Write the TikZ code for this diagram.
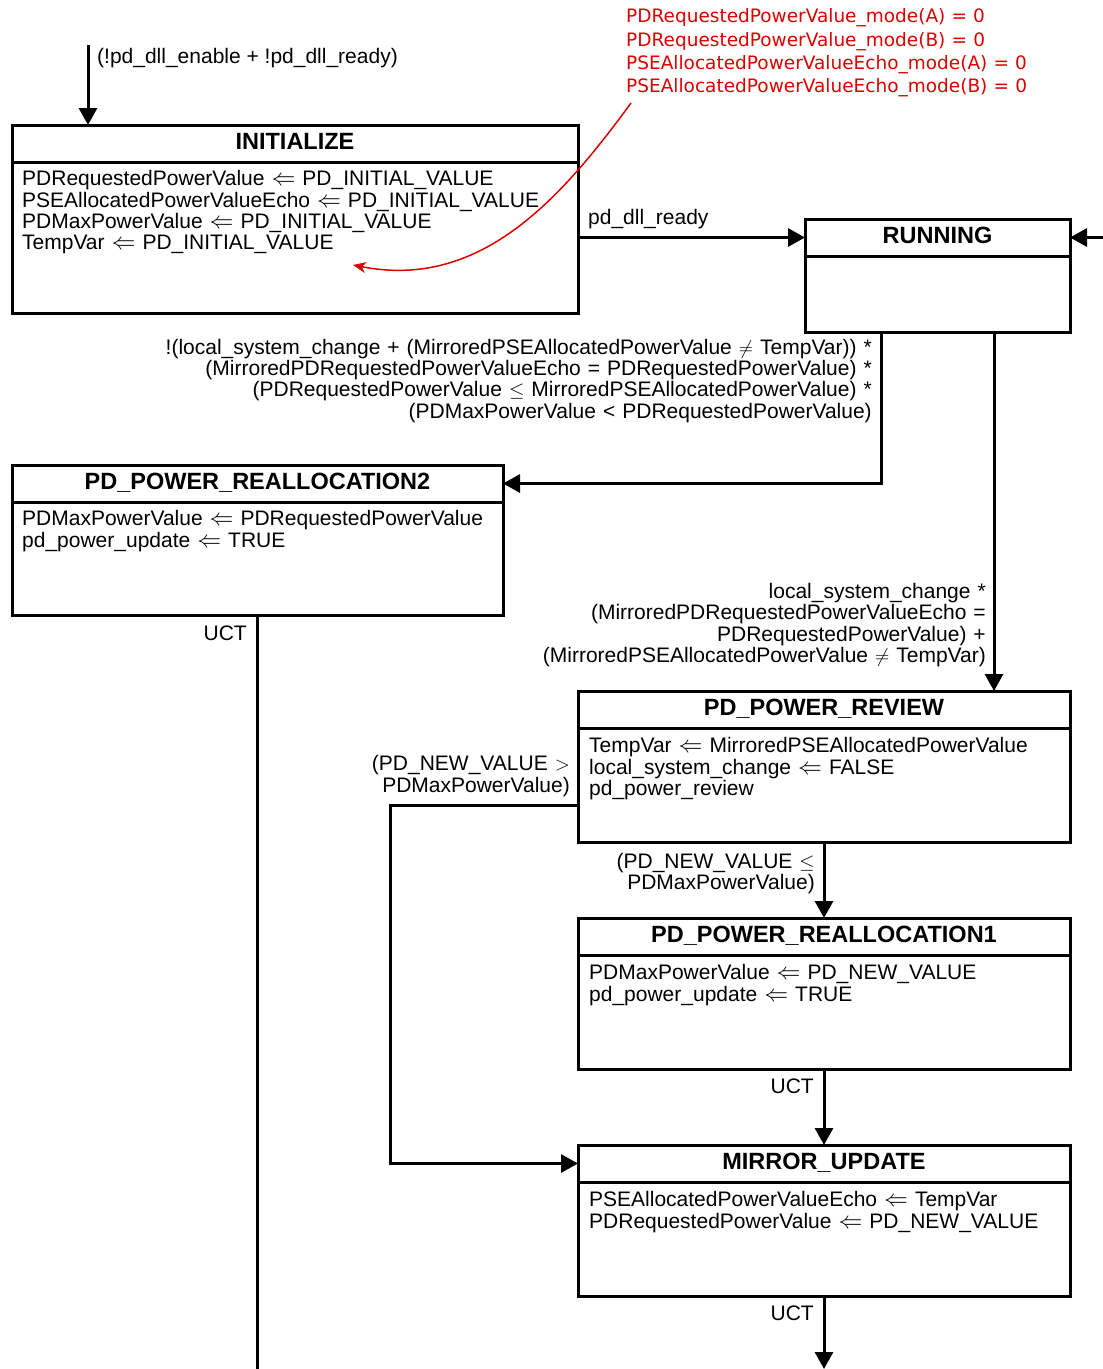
\documentclass[tikz,border=0pt]{standalone}
\usepackage{fontspec}
\usepackage{graphicx}
\setmainfont{Liberation Sans}
\newfontfamily\notefam{DejaVu Sans}
\usetikzlibrary{arrows.meta,calc}
\definecolor{notered}{RGB}{220,0,0}
\newcommand\bodyfont{\fontsize{21pt}{21.4pt}\selectfont}
\newcommand\titlefont{\fontsize{23.5pt}{24pt}\selectfont\bfseries}
\newcommand\notefont{\notefam\fontsize{18.5pt}{23.3pt}\selectfont}
% relation and assignment symbols (smashed so they never widen the line spacing)
\newcommand\rel[1]{\smash{\scalebox{0.95}{$#1$}}}
\newcommand\assignto{\smash{\scalebox{1.15}{$\Leftarrow$}}}
\tikzset{
  hdr/.style={draw, line width=3pt, anchor=north west, inner sep=0pt, outer sep=0pt,
    minimum height=37pt, font=\titlefont, text height=17pt, text depth=5.4pt},
  bodybox/.style={draw, line width=3pt, anchor=north west, inner sep=0pt, outer sep=0pt},
  acts/.style={anchor=base west, inner sep=0pt, align=left, text width=560pt, font=\bodyfont},
  gleft/.style={anchor=base west, inner sep=0pt, align=left, font=\bodyfont},
  gright/.style={anchor=base east, inner sep=0pt, align=right, text width=720pt, font=\bodyfont},
  flow/.style={line width=3pt, -{Triangle[length=17pt,width=18pt]}},
  plainflow/.style={line width=3pt},
  note/.style={text=notered, font=\notefont, anchor=base west, align=left,
    inner sep=0pt, text width=440pt},
  noteline/.style={draw=notered, line width=1.5pt, -{Stealth[length=13pt,width=11pt,inset=4pt]}}
}
\begin{document}
\begin{tikzpicture}[x=1pt,y=-1pt]
\useasboundingbox (0,0) rectangle (1103,1369);

% ---------------- states ----------------
% INITIALIZE
\node[hdr, minimum width=566pt] (initH) at (12,125) {INITIALIZE};
\node[bodybox, minimum width=566pt, minimum height=151pt] (initB) at (initH.south west) {};
\node[acts] (initA) at (22,185.7) {PDRequestedPowerValue \assignto{} PD\_INITIAL\_VALUE\\
PSEAllocatedPowerValueEcho \assignto{} PD\_INITIAL\_VALUE\\
PDMaxPowerValue \assignto{} PD\_INITIAL\_VALUE\\
TempVar \assignto{} PD\_INITIAL\_VALUE};

% RUNNING
\node[hdr, minimum width=265pt] (runH) at (805,219) {RUNNING};
\node[bodybox, minimum width=265pt, minimum height=76pt] (runB) at (runH.south west) {};

% PD_POWER_REALLOCATION2
\node[hdr, minimum width=491pt] (pr2H) at (12,465) {PD\_POWER\_REALLOCATION2};
\node[bodybox, minimum width=491pt, minimum height=113pt] (pr2B) at (pr2H.south west) {};
\node[acts] (pr2A) at (22,525.7) {PDMaxPowerValue \assignto{} PDRequestedPowerValue\\
pd\_power\_update \assignto{} TRUE};

% PD_POWER_REVIEW
\node[hdr, minimum width=492pt] (revH) at (578,691) {PD\_POWER\_REVIEW};
\node[bodybox, minimum width=492pt, minimum height=114pt] (revB) at (revH.south west) {};
\node[acts] (revA) at (589,752.7) {TempVar \assignto{} MirroredPSEAllocatedPowerValue\\
local\_system\_change \assignto{} FALSE\\
pd\_power\_review};

% PD_POWER_REALLOCATION1
\node[hdr, minimum width=492pt] (pr1H) at (578,918) {PD\_POWER\_REALLOCATION1};
\node[bodybox, minimum width=492pt, minimum height=114pt] (pr1B) at (pr1H.south west) {};
\node[acts] (pr1A) at (589,979.7) {PDMaxPowerValue \assignto{} PD\_NEW\_VALUE\\
pd\_power\_update \assignto{} TRUE};

% MIRROR_UPDATE
\node[hdr, minimum width=492pt] (mirH) at (578,1145) {MIRROR\_UPDATE};
\node[bodybox, minimum width=492pt, minimum height=114pt] (mirB) at (mirH.south west) {};
\node[acts] (mirA) at (589,1206.7) {PSEAllocatedPowerValueEcho \assignto{} TempVar\\
PDRequestedPowerValue \assignto{} PD\_NEW\_VALUE};

% ---------------- transitions ----------------
\coordinate (entry) at (88,45);
\draw[flow] (entry) -- (entry |- initH.north);
\node[gleft] (entryG) at (97,63) {(!pd\_dll\_enable + !pd\_dll\_ready)};

\draw[flow] (initH.east |- runH.west) -- (runH.west);
\node[gleft] (readyG) at (588,224) {pd\_dll\_ready};

\coordinate (rightin) at (1104,237.5);
\draw[flow] (rightin) -- (runH.east);

\draw[flow] ([xshift=-56.5pt]runB.south) |- (pr2H.east);
\node[gright] (g2) at (872,354) {!(local\_system\_change + (MirroredPSEAllocatedPowerValue \rel{\neq} TempVar)) *\\
(MirroredPDRequestedPowerValueEcho = PDRequestedPowerValue) *\\
(PDRequestedPowerValue \rel{\leq} MirroredPSEAllocatedPowerValue) *\\
(PDMaxPowerValue < PDRequestedPowerValue)};

\draw[flow] ([xshift=56.5pt]runB.south) -- ([xshift=56.5pt]runB.south |- revH.north);
\node[gright] (gRev) at (986,598.5) {local\_system\_change *\\
(MirroredPDRequestedPowerValueEcho =\\
PDRequestedPowerValue) +\\
(MirroredPSEAllocatedPowerValue \rel{\neq} TempVar)};

\coordinate (pr2out) at (pr2B.south |- 0,1369);
\draw[plainflow] (pr2B.south) -- (pr2out);
\node[gright] (uct2) at (247,640) {UCT};

\coordinate (detour) at (390,1000);
\draw[flow] ([yshift=-20pt]revB.west) -| (detour) |- (mirH.west);
\node[gright] (gGt) at (570,770.7) {(PD\_NEW\_VALUE \rel{>}\\ PDMaxPowerValue)};

\draw[flow] (revB.south) -- (pr1H.north);
\node[gright] (gLe) at (815,868.5) {(PD\_NEW\_VALUE \rel{\leq}\\ PDMaxPowerValue)};

\draw[flow] (pr1B.south) -- (mirH.north);
\node[gright] (uct1) at (814,1093.5) {UCT};

\coordinate (mirout) at (mirB.south |- 0,1369);
\draw[flow] (mirB.south) -- (mirout);
\node[gright] (uctm) at (814,1320) {UCT};

% ---------------- annotation ----------------
\node[note] (modes) at (626,22.7) {PDRequestedPowerValue\_mode(A) = 0\\
PDRequestedPowerValue\_mode(B) = 0\\
PSEAllocatedPowerValueEcho\_mode(A) = 0\\
PSEAllocatedPowerValueEcho\_mode(B) = 0};
\coordinate (notefoot) at (631,103);
\coordinate (notetip) at (353,265);
\draw[noteline] (notefoot) .. controls (560,200) and (480,290) .. (notetip);
\end{tikzpicture}
\end{document}
